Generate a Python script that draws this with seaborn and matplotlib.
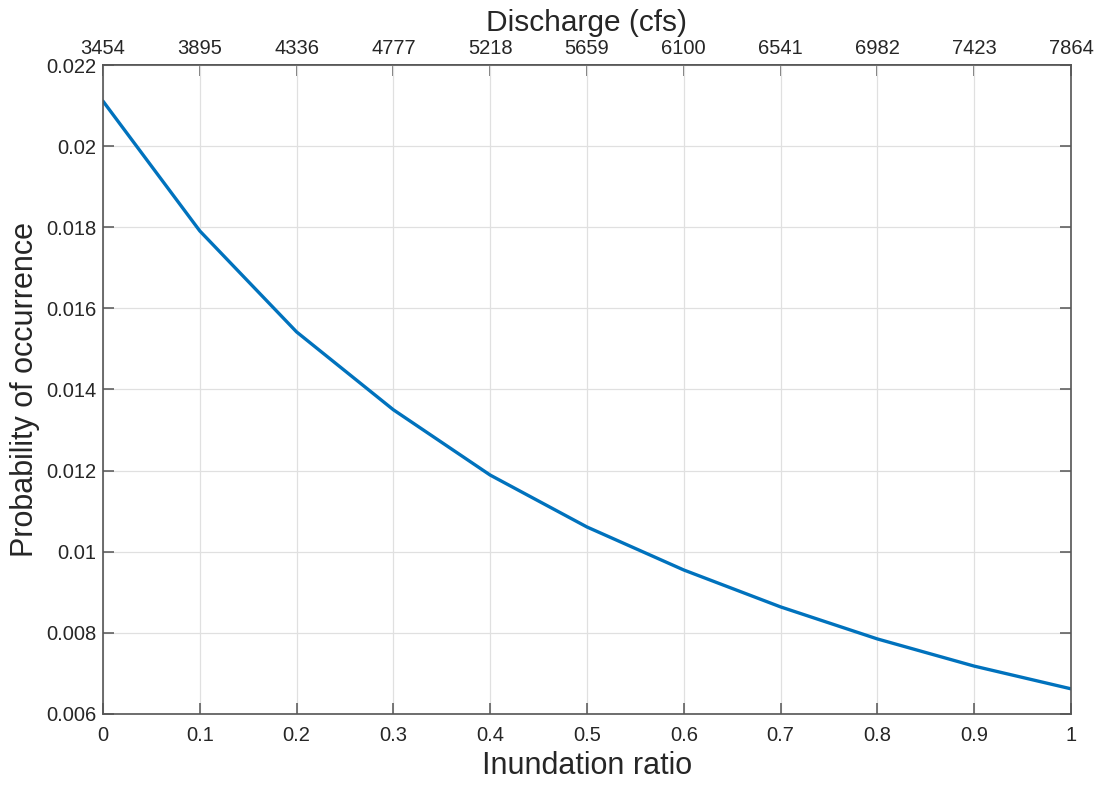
import matplotlib
matplotlib.use("Agg")
import matplotlib.pyplot as plt
import seaborn as sns
import pandas as pd

# Inundation ratio vs. probability of occurrence
inundation_ratio = [0.0, 0.1, 0.2, 0.3, 0.4, 0.5, 0.6, 0.7, 0.8, 0.9, 1.0]
probability = [0.02111, 0.01791, 0.01542, 0.01350, 0.01189, 0.01061,
               0.00955, 0.00864, 0.00785, 0.00718, 0.00662]
# Discharge matching each inundation-ratio tick
discharge_labels = ["3454", "3895", "4336", "4777", "5218", "5659",
                    "6100", "6541", "6982", "7423", "7864"]
x_tick_labels = ["0", "0.1", "0.2", "0.3", "0.4", "0.5", "0.6", "0.7",
                 "0.8", "0.9", "1"]
y_ticks = [0.006, 0.008, 0.01, 0.012, 0.014, 0.016, 0.018, 0.02, 0.022]
y_tick_labels = ["0.006", "0.008", "0.01", "0.012", "0.014", "0.016",
                 "0.018", "0.02", "0.022"]

df = pd.DataFrame({"ratio": inundation_ratio, "prob": probability})

sns.set_theme(style="white")
plt.rcParams["font.family"] = ["Liberation Sans", "DejaVu Sans"]

text_color = "#262626"
box_color = "#555555"
fig = plt.figure(figsize=(11, 7.87), dpi=100)
ax = fig.add_axes([0.0936, 0.0928, 0.88, 0.8246])

sns.lineplot(data=df, x="ratio", y="prob", ax=ax, color="#0072BD",
             linewidth=2.4)

ax.set_xlim(0, 1)
ax.set_ylim(0.006, 0.022)
ax.set_xticks(inundation_ratio)
ax.set_xticklabels(x_tick_labels)
ax.set_yticks(y_ticks)
ax.set_yticklabels(y_tick_labels)
ax.grid(True, color="#e0e0e0", linewidth=0.9)
ax.set_axisbelow(True)

ax.set_xlabel("Inundation ratio", fontsize=22, color=text_color, labelpad=4)
ax.set_ylabel("Probability of occurrence", fontsize=22, color=text_color,
              labelpad=4)
ax.tick_params(axis="x", direction="in", length=8, width=1.1,
               colors=box_color, labelcolor=text_color, labelsize=14.5,
               bottom=True, top=False, pad=9)
ax.tick_params(axis="y", direction="in", length=8, width=1.1,
               colors=box_color, labelcolor=text_color, labelsize=14.5,
               left=True, right=True, pad=5)

for sp in ax.spines.values():
    sp.set_color(box_color)
    sp.set_linewidth(1.2)

top = ax.secondary_xaxis("top")
top.set_xticks(inundation_ratio)
top.set_xticklabels(discharge_labels)
top.tick_params(axis="x", direction="in", length=8, width=1.1,
                colors=box_color, labelcolor=text_color, labelsize=14.5,
                top=True, pad=5)
top.set_xlabel("Discharge (cfs)", fontsize=21.5, color=text_color,
               labelpad=6)
top.spines["top"].set_color(box_color)
top.spines["top"].set_linewidth(1.2)

fig.savefig("out.png", dpi=100, facecolor="white")
